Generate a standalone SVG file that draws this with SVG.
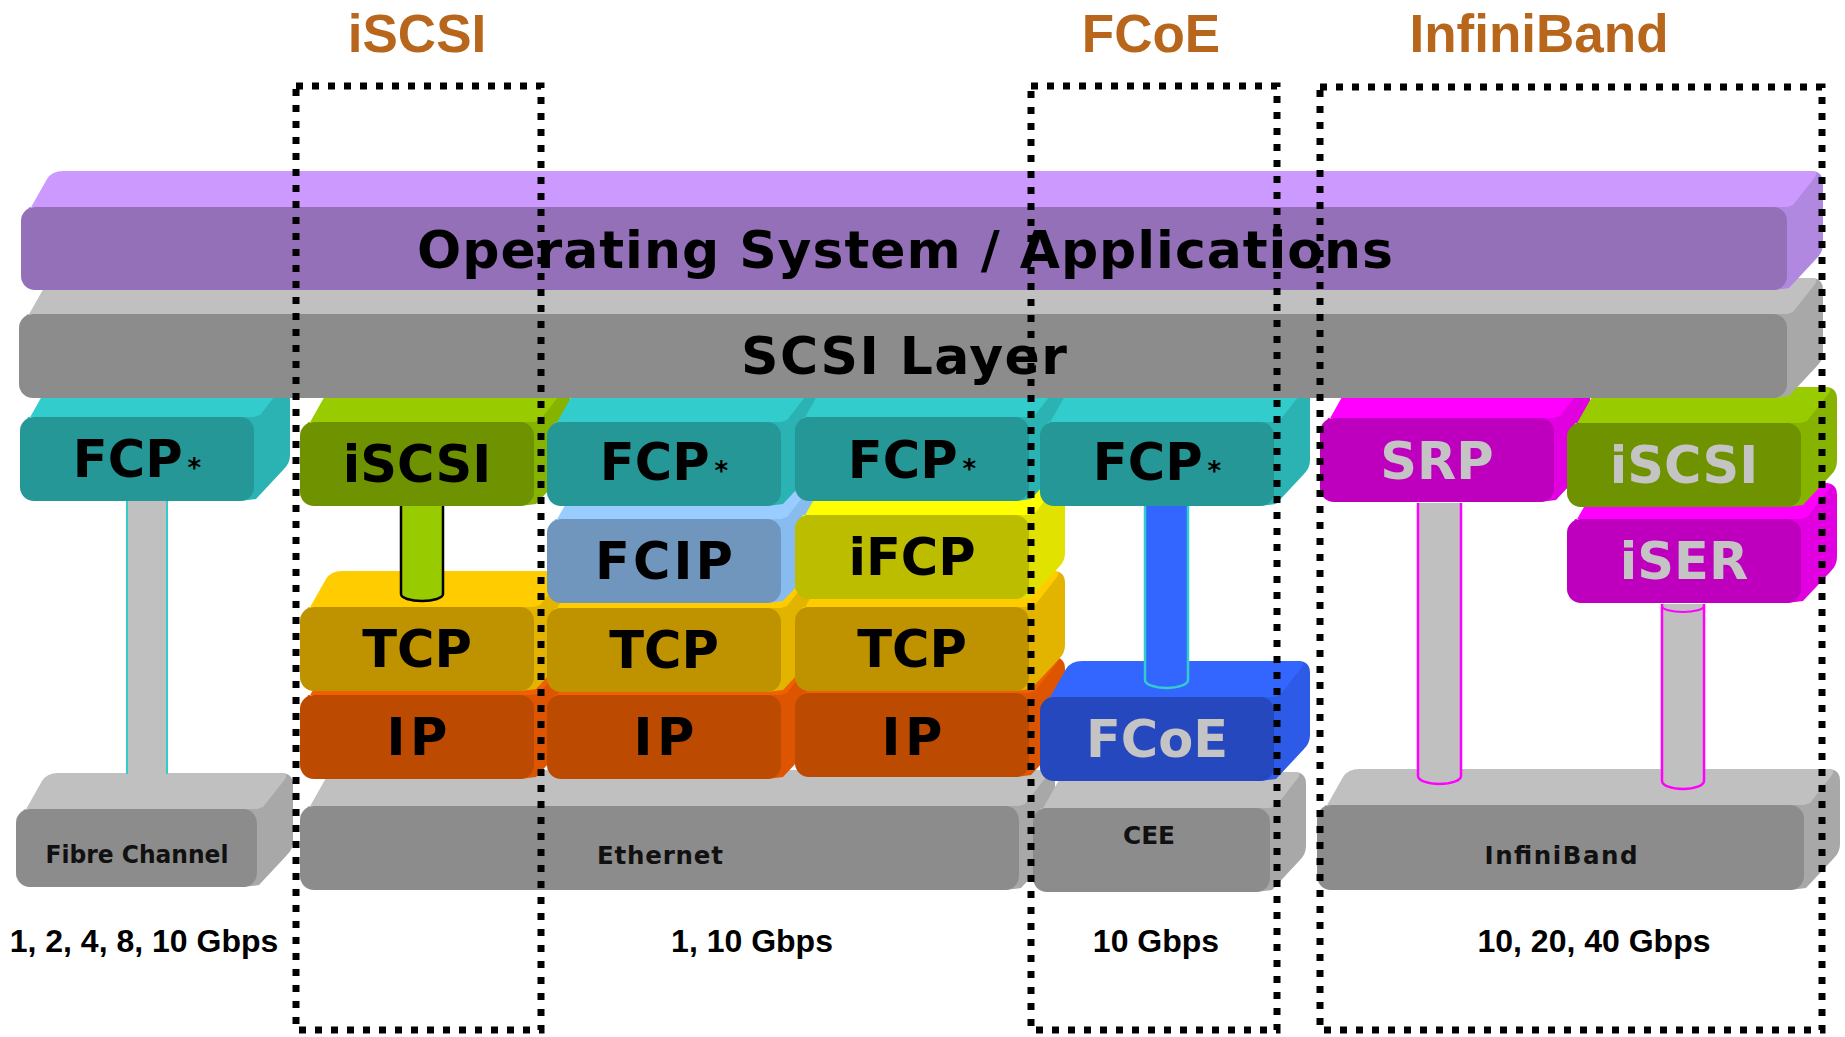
<svg xmlns="http://www.w3.org/2000/svg" width="1845" height="1037" viewBox="0 0 1845 1037">
<style>
.lbl{font-family:"DejaVu Sans",Verdana,sans-serif;font-weight:bold;font-size:51px;text-anchor:middle;fill:#000}
.lt{fill:#C4C4C4}
.net{font-family:"DejaVu Sans",Verdana,sans-serif;font-weight:bold;font-size:24.5px;text-anchor:middle;fill:#111}
.bar{font-family:"DejaVu Sans",Verdana,sans-serif;font-weight:bold;font-size:52px;text-anchor:middle;fill:#000}
.title{font-family:"Liberation Sans",Arial,sans-serif;font-weight:bold;font-size:53px;text-anchor:middle;fill:#B7661B}
.speed{font-family:"Liberation Sans",Arial,sans-serif;font-weight:bold;font-size:32px;text-anchor:middle;fill:#000}
.zone{fill:none;stroke:#000;stroke-width:7;stroke-dasharray:7 9}
.teal .tp{fill:#33CCCC}.teal .sd{fill:#2BB3B3}.teal .fr{fill:#259797}
.green .tp{fill:#99CC00}.green .sd{fill:#86B300}.green .fr{fill:#6E9200}
.sky .tp{fill:#99CCFF}.sky .sd{fill:#88BBEE}.sky .fr{fill:#7096BE}
.yellow .tp{fill:#FFFF00}.yellow .sd{fill:#E2E200}.yellow .fr{fill:#BDBD00}
.gold .tp{fill:#FFCC00}.gold .sd{fill:#E2B400}.gold .fr{fill:#BF9300}
.orange .tp{fill:#EE6000}.orange .sd{fill:#DD5500}.orange .fr{fill:#BC4A00}
.blue .tp{fill:#3366FF}.blue .sd{fill:#2D5BE8}.blue .fr{fill:#2548BE}
.magenta .tp{fill:#FF00FF}.magenta .sd{fill:#E000E0}.magenta .fr{fill:#BE00BE}
.gray .tp{fill:#C0C0C0}.gray .sd{fill:#A8A8A8}.gray .fr{fill:#8C8C8C}
.purple .tp{fill:#CC99FF}.purple .sd{fill:#B088E0}.purple .fr{fill:#9370B8}
.stem{stroke-width:2.5}
</style>
<defs>
  <!-- standard protocol block: 234 x 84 front face, 36px extrusion -->
  <path id="cTop" d="M0,18 L26,-28 Q31,-36 42,-36 L258,-36 Q266,-36 262,-30 L240,-2 L234,0 L8,0 Z"/>
  <path id="cSide" d="M220,0 L258,-36 Q270,-36 270,-24 L270,38 Q270,46 264,52 L236,82 L220,84 Z"/>
  <rect id="cFront" width="234" height="84" rx="14"/>
</defs>

<!-- transport / network layer slabs -->
<g id="fc-net" class="gray" transform="translate(16,809)">
  <path class="sd" d="M227,0 L265,-36 Q277,-36 277,-24 L277,32 Q277,40 271,46 L243,76 L227,78 Z"/>
  <path class="tp" d="M0,18 L26,-28 Q31,-36 42,-36 L265,-36 Q273,-36 269,-30 L247,-2 L241,0 L8,0 Z"/>
  <rect class="fr" width="241" height="78" rx="14"/>
  <text class="net" x="121" y="54" textLength="183" lengthAdjust="spacingAndGlyphs">Fibre Channel</text>
</g>
<g id="ethernet-net" class="gray" transform="translate(300,806)">
  <path class="sd" d="M705,0 L743,-36 Q755,-36 755,-24 L755,38 Q755,46 749,52 L721,82 L705,84 Z"/>
  <path class="tp" d="M0,18 L26,-28 Q31,-36 42,-36 L743,-36 Q751,-36 747,-30 L725,-2 L719,0 L8,0 Z"/>
  <rect class="fr" width="719" height="84" rx="14"/>
  <text class="net" x="360" y="58" textLength="126" lengthAdjust="spacing">Ethernet</text>
</g>
<g id="cee-net" class="gray" transform="translate(1033,808)">
  <path class="sd" d="M223,0 L261,-36 Q273,-36 273,-24 L273,38 Q273,46 267,52 L239,82 L223,84 Z"/>
  <path class="tp" d="M0,18 L26,-28 Q31,-36 42,-36 L261,-36 Q269,-36 265,-30 L243,-2 L237,0 L8,0 Z"/>
  <rect class="fr" width="237" height="84" rx="14"/>
  <text class="net" x="116" y="36" textLength="52" lengthAdjust="spacingAndGlyphs">CEE</text>
</g>
<g id="ib-net" class="gray" transform="translate(1317,805)">
  <path class="sd" d="M473,0 L511,-36 Q523,-36 523,-24 L523,39 Q523,47 517,53 L489,83 L473,85 Z"/>
  <path class="tp" d="M0,18 L26,-28 Q31,-36 42,-36 L511,-36 Q519,-36 515,-30 L493,-2 L487,0 L8,0 Z"/>
  <rect class="fr" width="487" height="85" rx="14"/>
  <text class="net" x="244" y="59" textLength="153" lengthAdjust="spacing">InfiniBand</text>
</g>

<!-- Fibre Channel column -->
<g id="fcp-fc" class="teal" transform="translate(20,417)">
  <use href="#cSide" class="sd"/><use href="#cTop" class="tp"/><use href="#cFront" class="fr"/>
  <text class="lbl" x="117" y="60">FCP<tspan font-size="26" dx="5">*</tspan></text>
</g>

<!-- iSCSI column -->
<g id="ip-iscsi" class="orange" transform="translate(300,695)">
  <use href="#cSide" class="sd"/><use href="#cTop" class="tp"/><use href="#cFront" class="fr"/>
  <text class="lbl" x="117" y="60" textLength="61" lengthAdjust="spacing">IP</text>
</g>
<g id="tcp-iscsi" class="gold" transform="translate(300,607)">
  <use href="#cSide" class="sd"/><use href="#cTop" class="tp"/><use href="#cFront" class="fr"/>
  <text class="lbl" x="117" y="60">TCP</text>
</g>
<g id="iscsi" class="green" transform="translate(300,422)">
  <use href="#cSide" class="sd"/><use href="#cTop" class="tp"/><use href="#cFront" class="fr"/>
  <text class="lbl" x="117" y="60">iSCSI</text>
</g>

<!-- FCIP column -->
<g id="ip-fcip" class="orange" transform="translate(547,695)">
  <use href="#cSide" class="sd"/><use href="#cTop" class="tp"/><use href="#cFront" class="fr"/>
  <text class="lbl" x="117" y="60" textLength="61" lengthAdjust="spacing">IP</text>
</g>
<g id="tcp-fcip" class="gold" transform="translate(547,608)">
  <use href="#cSide" class="sd"/><use href="#cTop" class="tp"/><use href="#cFront" class="fr"/>
  <text class="lbl" x="117" y="60">TCP</text>
</g>
<g id="fcip" class="sky" transform="translate(547,519)">
  <use href="#cSide" class="sd"/><use href="#cTop" class="tp"/><use href="#cFront" class="fr"/>
  <text class="lbl" x="117" y="60" textLength="138" lengthAdjust="spacing">FCIP</text>
</g>
<g id="fcp-fcip" class="teal" transform="translate(547,422)">
  <use href="#cSide" class="sd"/><use href="#cTop" class="tp"/><use href="#cFront" class="fr"/>
  <text class="lbl" x="117" y="58">FCP<tspan font-size="26" dx="5">*</tspan></text>
</g>

<!-- iFCP column -->
<g id="ip-ifcp" class="orange" transform="translate(795,693)">
  <use href="#cSide" class="sd"/><use href="#cTop" class="tp"/><use href="#cFront" class="fr"/>
  <text class="lbl" x="117" y="62" textLength="61" lengthAdjust="spacing">IP</text>
</g>
<g id="tcp-ifcp" class="gold" transform="translate(795,607)">
  <use href="#cSide" class="sd"/><use href="#cTop" class="tp"/><use href="#cFront" class="fr"/>
  <text class="lbl" x="117" y="60">TCP</text>
</g>
<g id="ifcp" class="yellow" transform="translate(795,515)">
  <use href="#cSide" class="sd"/><use href="#cTop" class="tp"/><use href="#cFront" class="fr"/>
  <text class="lbl" x="117" y="60">iFCP</text>
</g>
<g id="fcp-ifcp" class="teal" transform="translate(795,417)">
  <use href="#cSide" class="sd"/><use href="#cTop" class="tp"/><use href="#cFront" class="fr"/>
  <text class="lbl" x="117" y="61">FCP<tspan font-size="26" dx="5">*</tspan></text>
</g>

<!-- FCoE column -->
<g id="fcoe" class="blue" transform="translate(1040,697)">
  <use href="#cSide" class="sd"/><use href="#cTop" class="tp"/><use href="#cFront" class="fr"/>
  <text class="lbl lt" x="117" y="60">FCoE</text>
</g>
<g id="fcp-fcoe" class="teal" transform="translate(1040,422)">
  <use href="#cSide" class="sd"/><use href="#cTop" class="tp"/><use href="#cFront" class="fr"/>
  <text class="lbl" x="117" y="58">FCP<tspan font-size="26" dx="5">*</tspan></text>
</g>

<!-- InfiniBand columns -->
<g id="srp" class="magenta" transform="translate(1320,418)">
  <use href="#cSide" class="sd"/><use href="#cTop" class="tp"/><use href="#cFront" class="fr"/>
  <text class="lbl lt" x="117" y="61">SRP</text>
</g>
<g id="iser" class="magenta" transform="translate(1567,519)">
  <use href="#cSide" class="sd"/><use href="#cTop" class="tp"/><use href="#cFront" class="fr"/>
  <text class="lbl lt" x="117" y="60">iSER</text>
</g>
<g id="iscsi-ib" class="green" transform="translate(1567,423)">
  <use href="#cSide" class="sd"/><use href="#cTop" class="tp"/><use href="#cFront" class="fr"/>
  <text class="lbl lt" x="117" y="60">iSCSI</text>
</g>

<!-- shared upper layers -->
<g id="scsi-layer" class="gray" transform="translate(19,314)">
  <path class="sd" d="M1754,0 L1792,-36 Q1804,-36 1804,-24 L1804,38 Q1804,46 1798,52 L1770,82 L1754,84 Z"/>
  <path class="tp" d="M0,18 L26,-28 Q31,-36 42,-36 L1792,-36 Q1800,-36 1796,-30 L1774,-2 L1768,0 L8,0 Z"/>
  <rect class="fr" width="1768" height="84" rx="14"/>
  <text class="bar" x="885" y="60" textLength="326" lengthAdjust="spacing">SCSI Layer</text>
</g>
<g id="os-apps" class="purple" transform="translate(21,207)">
  <path class="sd" d="M1752,0 L1790,-36 Q1802,-36 1802,-24 L1802,37 Q1802,45 1796,51 L1768,81 L1752,83 Z"/>
  <path class="tp" d="M0,18 L26,-28 Q31,-36 42,-36 L1790,-36 Q1798,-36 1794,-30 L1772,-2 L1766,0 L8,0 Z"/>
  <rect class="fr" width="1766" height="83" rx="14"/>
  <text class="bar" x="884" y="61" textLength="976" lengthAdjust="spacing">Operating System / Applications</text>
</g>

<!-- pillars joining protocol blocks to the layers below -->
<g id="connectors">
  <rect x="126" y="501" width="42" height="273" fill="#C0C0C0"/>
  <line x1="127" y1="501" x2="127" y2="774" stroke="#33CCCC" stroke-width="2"/>
  <line x1="167" y1="501" x2="167" y2="774" stroke="#33CCCC" stroke-width="2"/>
  <path class="stem" d="M401,506 L401,594 A21,7 0 0 0 443,594 L443,506" fill="#99CC00" stroke="#000"/>
  <path class="stem" d="M1145,506 L1145,680 A21.5,8 0 0 0 1188,680 L1188,506" fill="#3366FF" stroke="#33CCCC"/>
  <path class="stem" d="M1418,503 L1418,776 A21.5,8 0 0 0 1461,776 L1461,503" fill="#C0C0C0" stroke="#FF00FF"/>
  <path class="stem" d="M1662,604 L1662,781 A21,8 0 0 0 1704,781 L1704,604" fill="#C0C0C0" stroke="#FF00FF"/>
  <path d="M1662,606 A21,6 0 0 0 1704,606" fill="none" stroke="#FF00FF" stroke-width="2"/>
</g>

<!-- protocol family outlines -->
<g id="zones">
  <rect class="zone" x="296" y="86" width="245" height="944"/>
  <rect class="zone" x="1031" y="86" width="246" height="944"/>
  <rect class="zone" x="1320" y="87" width="502" height="943"/>
</g>

<g id="titles">
  <text class="title" x="417" y="52">iSCSI</text>
  <text class="title" x="1151" y="52">FCoE</text>
  <text class="title" x="1539" y="52">InfiniBand</text>
</g>

<g id="speeds">
  <text class="speed" x="144" y="952">1, 2, 4, 8, 10 Gbps</text>
  <text class="speed" x="752" y="952">1, 10 Gbps</text>
  <text class="speed" x="1156" y="952">10 Gbps</text>
  <text class="speed" x="1594" y="952">10, 20, 40 Gbps</text>
</g>
</svg>
